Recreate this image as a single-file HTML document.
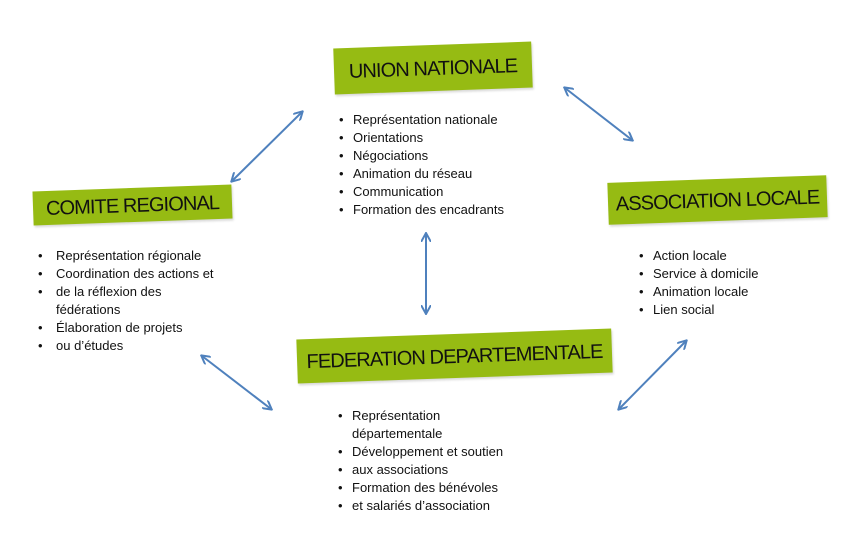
<!DOCTYPE html>
<html><head><meta charset="utf-8"><style>
body{margin:0;width:855px;height:548px;background:#fff;position:relative;overflow:hidden;font-family:"Liberation Sans",sans-serif;color:#111}
.b{position:absolute;background:#96bb13;transform:rotate(-2deg);box-shadow:1px 2px 2px rgba(0,0,0,.15);font-size:20px;letter-spacing:-0.9px;display:flex;align-items:center;justify-content:center;white-space:nowrap;padding-top:3px;box-sizing:border-box}
.l{position:absolute;font-size:13px;line-height:18px;margin:0;padding:0;list-style:none;white-space:nowrap}
.l li{position:relative;padding-left:14px}
.l li.c::before{content:"•";position:absolute;left:0}
svg{position:absolute;left:0;top:0}
</style></head><body>
<svg width="855" height="548">
<defs><marker id="a" markerWidth="10" markerHeight="10" refX="8" refY="5" orient="auto-start-reverse" markerUnits="userSpaceOnUse"><path d="M0,0 L9,5 L0,10" fill="none" stroke="#4f81bd" stroke-width="2"/></marker></defs>
<g stroke="#4f81bd" stroke-width="2" marker-start="url(#a)" marker-end="url(#a)">
<line x1="302" y1="112" x2="232" y2="181"/>
<line x1="565" y1="88" x2="632" y2="140"/>
<line x1="426" y1="234" x2="426" y2="313"/>
<line x1="202" y1="356" x2="271" y2="409"/>
<line x1="686" y1="341" x2="619" y2="409"/>
</g></svg>
<div class="b" style="left:334px;top:45px;width:198px;height:46px">UNION NATIONALE</div>
<div class="b" style="left:33px;top:188px;width:199px;height:34px">COMITE REGIONAL</div>
<div class="b" style="left:608px;top:179px;width:219px;height:42px">ASSOCIATION LOCALE</div>
<div class="b" style="left:297px;top:334px;width:315px;height:44px">FEDERATION DEPARTEMENTALE</div>
<ul class="l" style="left:339px;top:111px"><li class="c">Représentation nationale</li><li class="c">Orientations</li><li class="c">Négociations</li><li class="c">Animation du réseau</li><li class="c">Communication</li><li class="c">Formation des encadrants</li></ul>
<ul class="l" style="left:38px;top:247px"><li class="c" style="padding-left:18px">Représentation régionale</li><li class="c" style="padding-left:18px">Coordination des actions et</li><li class="c" style="padding-left:18px">de la réflexion des</li><li style="padding-left:18px">fédérations</li><li class="c" style="padding-left:18px">Élaboration de projets</li><li class="c" style="padding-left:18px">ou d’études</li></ul>
<ul class="l" style="left:639px;top:247px"><li class="c">Action locale</li><li class="c">Service à domicile</li><li class="c">Animation locale</li><li class="c">Lien social</li></ul>
<ul class="l" style="left:338px;top:407px"><li class="c">Représentation</li><li>départementale</li><li class="c">Développement et soutien</li><li class="c">aux associations</li><li class="c">Formation des bénévoles</li><li class="c">et salariés d’association</li></ul>
</body></html>
